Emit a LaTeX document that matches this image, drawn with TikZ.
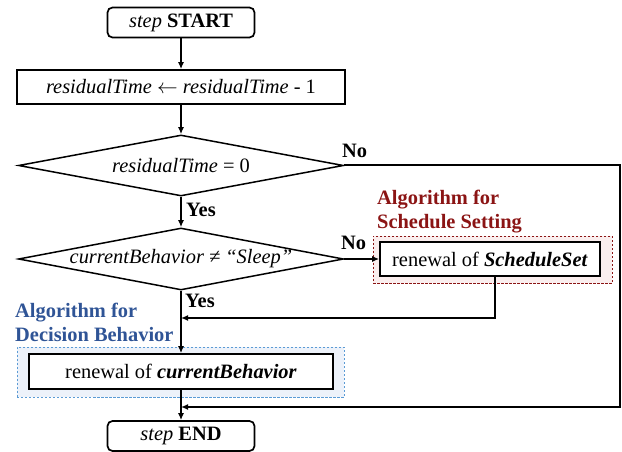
\documentclass[tikz,border=0pt]{standalone}
\usepackage{fontspec}
\setmainfont{Liberation Serif}
\usetikzlibrary{shapes.geometric,arrows.meta}
\definecolor{rtxt}{RGB}{139,20,20}
\definecolor{rfill}{RGB}{250,238,238}
\definecolor{btxt}{RGB}{47,84,150}
\definecolor{bline}{RGB}{91,155,213}
\definecolor{bfill}{RGB}{237,242,250}
\begin{document}
\begin{tikzpicture}[x=1bp,y=-1bp,
  txt/.style={font=\fontsize{20.5}{24}\selectfont},
  term/.style={draw, line width=1.7bp, rounded corners=5bp, inner sep=0, fill=white, txt},
  proc/.style={draw, line width=1.7bp, inner sep=0, fill=white, txt},
  dec/.style={draw, diamond, line width=1.5bp, inner sep=0},
  conn/.style={line width=2bp, -{Latex[length=7bp,width=6bp]}},
  lab/.style={font=\fontsize{20.5}{24.5}\selectfont\bfseries, inner sep=0},
  grpr/.style={draw=rtxt, line width=0.8bp, fill=rfill, inner sep=0, dash pattern=on 2.5bp off 1.5bp},
  grpb/.style={draw=bline, line width=0.8bp, fill=bfill, inner sep=0, dash pattern=on 2.5bp off 1.5bp}
]
\useasboundingbox (0,0) rectangle (622,452);
% terminals and process boxes
\node[term, minimum width=147bp, minimum height=30bp] (start) at (181,22.5) {\textit{step} \textbf{START}};
\node[proc, minimum width=328bp, minimum height=34bp] (upd) at (181,87) {\textit{residualTime} $\leftarrow$ \textit{residualTime} - 1};
% decisions
\node[dec, minimum width=325bp, minimum height=61bp] (d1) at (181,165.5) {};
\node[txt, inner sep=0] (t1) at (d1.center) {\textit{residualTime} = 0};
\node[dec, minimum width=325bp, minimum height=62bp] (d2) at (181,259) {};
\node[txt, inner sep=0] (t2) at (d2.center) {\textit{currentBehavior ≠ “Sleep”}};
% schedule group
\node[grpr, minimum width=239bp, minimum height=47bp] (rg) at (492.5,259.5) {};
\node[proc, minimum width=220bp, minimum height=34bp] (sbox) at (490,259) {renewal of \textbf{\textit{ScheduleSet}}};
% behavior group
\node[grpb, minimum width=327bp, minimum height=50bp] (bg) at (180.5,372) {};
\node[proc, minimum width=304bp, minimum height=35bp] (cb) at (181,371.5) {renewal of \textbf{\textit{currentBehavior}}};
\node[term, minimum width=147bp, minimum height=30bp] (end) at (181,436) {\textit{step} \textbf{END}};
% helper coordinates
\coordinate (rt) at (620,0);
\coordinate (m1) at (181,318);
\coordinate (m2) at (181,407);
% connectors
\draw[conn] (start.south) -- (upd.north);
\draw[conn] (upd.south) -- (d1.north);
\draw[conn] (d1.south) -- (d2.north);
\draw[conn] (d2.east) -- (sbox.west);
\draw[conn] (d2.south) -- (cb.north);
\draw[conn] (cb.south) -- (end.north);
\draw[conn] ([xshift=5bp]sbox.south) |- (m1);
\draw[conn] (d1.east) -- (d1.east -| rt) |- (m2);
% labels
\node[lab, anchor=west] (y1) at (186,210) {Yes};
\node[lab, anchor=west] (y2) at (185,301) {Yes};
\node[lab, anchor=west] (n1) at (342,151) {No};
\node[lab, anchor=west] (n2) at (341,242.5) {No};
\node[lab, text=rtxt, align=left, anchor=north west] (rl) at (377,190) {Algorithm for\\Schedule Setting};
\node[lab, text=btxt, align=left, anchor=north west] (bl) at (15,303) {Algorithm for\\Decision Behavior};
\end{tikzpicture}
\end{document}
